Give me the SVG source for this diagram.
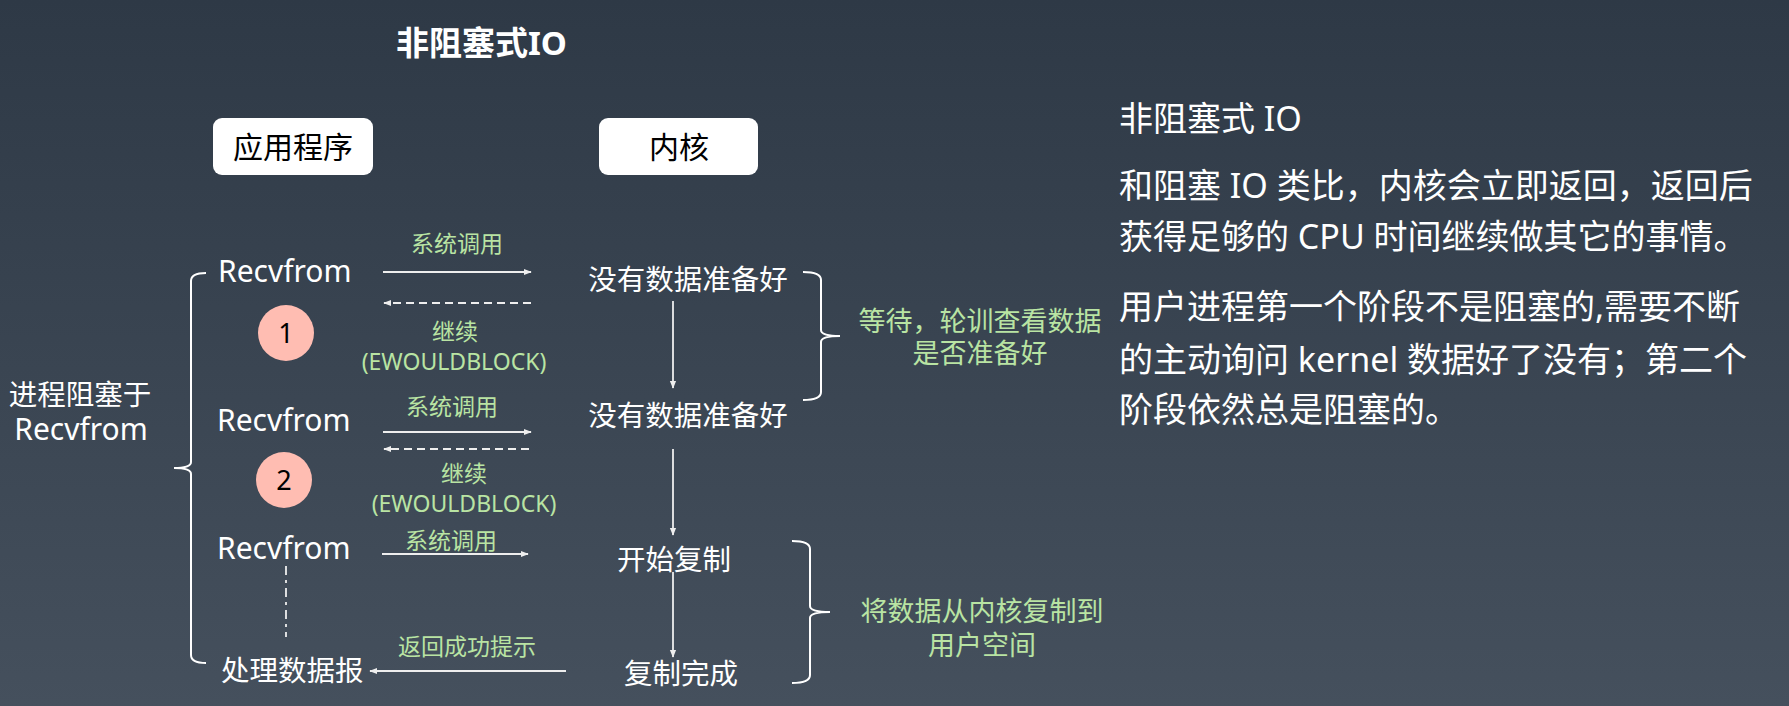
<svg xmlns="http://www.w3.org/2000/svg" width="1789" height="706" viewBox="0 0 1789 706">
  <defs>
    <linearGradient id="bg" x1="0" y1="0" x2="0" y2="1">
      <stop offset="0" stop-color="#2e3946"/>
      <stop offset="1" stop-color="#45505d"/>
    </linearGradient>
    <marker id="arrow" viewBox="0 0 10 10" refX="9" refY="5" markerWidth="8" markerHeight="8" markerUnits="userSpaceOnUse" orient="auto">
      <path d="M0,1 L10,5 L0,9 Z" fill="#eeeeee"/>
    </marker>
    <style>
      text { font-family: "Noto Sans", "Noto Sans CJK SC", sans-serif; }
      .title { font-size: 33px; font-weight: bold; fill: #ffffff; }
      .box { fill: #ffffff; }
      .boxlabel { font-size: 30px; fill: #000000; text-anchor: middle; }
      .label { font-size: 30px; fill: #ffffff; }
      .cjk { font-size: 28.5px; }
      .mid { text-anchor: middle; }
      .note { font-size: 23px; fill: #b9e4a3; text-anchor: middle; }
      .phase { font-size: 27px; fill: #b9e4a3; text-anchor: middle; }
      .desc { font-size: 34px; fill: #ffffff; }
      .step { fill: #ffbdb2; }
      .stepnum { font-size: 27px; fill: #000000; text-anchor: middle; }
      .line { stroke: #eeeeee; stroke-width: 1.8; fill: none; }
      .dashed { stroke-dasharray: 8 5; }
      .dashdot { stroke-dasharray: 9 5 3 5; }
      .brace { stroke: #ffffff; stroke-width: 2; fill: none; }
    </style>
  </defs>

  <rect x="0" y="0" width="1789" height="706" fill="url(#bg)"/>

  <text class="title" x="396" y="55">非阻塞式IO</text>

  <!-- column headers -->
  <g id="app-header">
    <rect class="box" x="213" y="118" width="160" height="57" rx="9"/>
    <text class="boxlabel" x="293" y="158">应用程序</text>
  </g>
  <g id="kernel-header">
    <rect class="box" x="599" y="118" width="159" height="57" rx="9"/>
    <text class="boxlabel" x="679" y="158">内核</text>
  </g>

  <!-- application side -->
  <g id="blocked-note">
    <text class="label cjk mid" x="80" y="405">进程阻塞于</text>
    <text class="label mid" x="81" y="440">Recvfrom</text>
  </g>
  <g id="recv1"><text class="label" x="218" y="282">Recvfrom</text></g>
  <g id="recv2"><text class="label" x="217" y="431">Recvfrom</text></g>
  <g id="recv3"><text class="label" x="217" y="559">Recvfrom</text></g>
  <g id="process"><text class="label cjk" x="221" y="681">处理数据报</text></g>

  <g id="step1">
    <circle class="step" cx="286" cy="333" r="28"/>
    <text class="stepnum" x="286" y="343">1</text>
  </g>
  <g id="step2">
    <circle class="step" cx="284" cy="480" r="28"/>
    <text class="stepnum" x="284" y="490">2</text>
  </g>

  <!-- kernel side -->
  <g id="nodata1"><text class="label cjk mid" x="688" y="290">没有数据准备好</text></g>
  <g id="nodata2"><text class="label cjk mid" x="688" y="426">没有数据准备好</text></g>
  <g id="copy-start"><text class="label cjk mid" x="674" y="570">开始复制</text></g>
  <g id="copy-done"><text class="label cjk mid" x="681" y="684">复制完成</text></g>

  <!-- phase notes -->
  <g id="wait-note">
    <text class="phase" x="980" y="331">等待，轮训查看数据</text>
    <text class="phase" x="980" y="363">是否准备好</text>
  </g>
  <g id="copy-note">
    <text class="phase" x="982" y="621">将数据从内核复制到</text>
    <text class="phase" x="982" y="655">用户空间</text>
  </g>

  <!-- connectors -->
  <g id="connectors">
    <line class="line" x1="383" y1="272" x2="531" y2="272" marker-end="url(#arrow)"/>
    <line class="line dashed" x1="531" y1="303" x2="384" y2="303" marker-end="url(#arrow)"/>
    <line class="line" x1="383" y1="432" x2="531" y2="432" marker-end="url(#arrow)"/>
    <line class="line dashed" x1="529" y1="449" x2="384" y2="449" marker-end="url(#arrow)"/>
    <line class="line" x1="382" y1="554" x2="528" y2="554" marker-end="url(#arrow)"/>
    <line class="line" x1="566" y1="671" x2="370" y2="671" marker-end="url(#arrow)"/>
    <line class="line dashdot" x1="286" y1="566" x2="286" y2="637"/>

    <line class="line" x1="673" y1="301" x2="673" y2="388" marker-end="url(#arrow)"/>
    <line class="line" x1="673" y1="449" x2="673" y2="535" marker-end="url(#arrow)"/>
    <line class="line" x1="673" y1="572" x2="673" y2="657" marker-end="url(#arrow)"/>

    <path class="brace" d="M206,273 Q191,273 191,281 L191,462 Q191,468 174,468 Q191,468 191,474 L191,655 Q191,663 206,663"/>
    <path class="brace" d="M803,272 Q821,272 821,280 L821,330 Q821,336 840,336 Q821,336 821,342 L821,392 Q821,400 803,400"/>
    <path class="brace" d="M792,541 Q810,541 810,549 L810,606 Q810,612 830,612 Q810,612 810,618 L810,675 Q810,683 792,683"/>

    <text class="note" x="457" y="252">系统调用</text>
    <text class="note" x="455" y="340">继续</text>
    <text class="note" x="454" y="370">(EWOULDBLOCK)</text>
    <text class="note" x="452" y="415">系统调用</text>
    <text class="note" x="464" y="482">继续</text>
    <text class="note" x="464" y="512">(EWOULDBLOCK)</text>
    <text class="note" x="451" y="549">系统调用</text>
    <text class="note" x="467" y="655">返回成功提示</text>
  </g>

  <!-- explanation -->
  <g id="explanation">
    <text class="desc" x="1119" y="131">非阻塞式 IO</text>
    <text class="desc" x="1119" y="198">和阻塞 IO 类比，内核会立即返回，返回后</text>
    <text class="desc" x="1119" y="249">获得足够的 CPU 时间继续做其它的事情。</text>
    <text class="desc" x="1119" y="319">用户进程第一个阶段不是阻塞的,需要不断</text>
    <text class="desc" x="1119" y="372">的主动询问 kernel 数据好了没有；第二个</text>
    <text class="desc" x="1119" y="422">阶段依然总是阻塞的。</text>
  </g>
</svg>
